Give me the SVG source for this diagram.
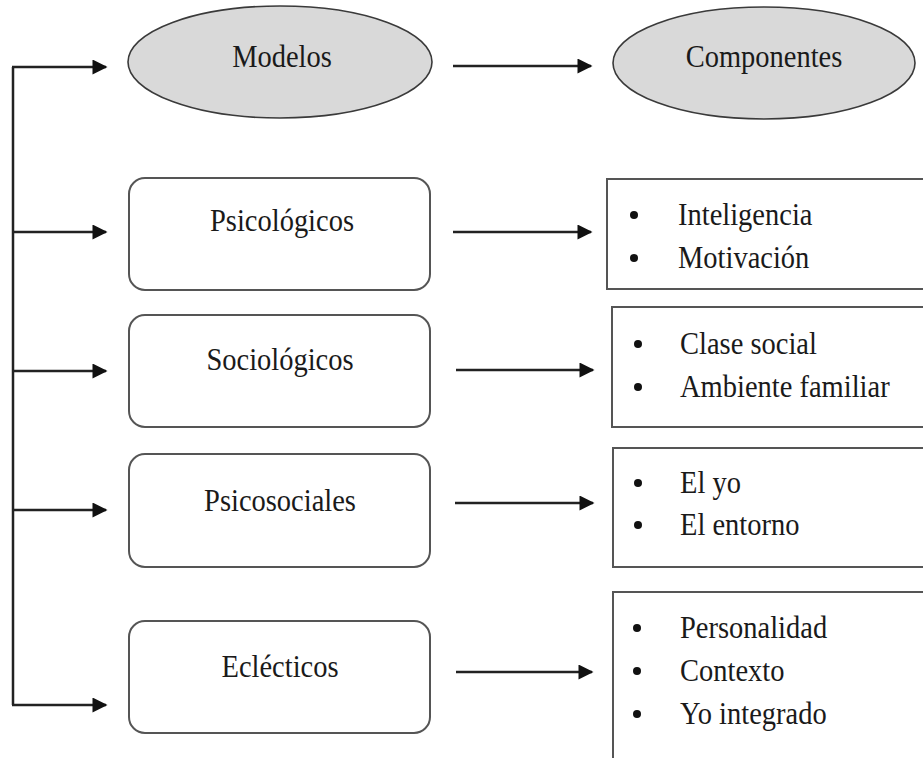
<svg xmlns="http://www.w3.org/2000/svg" width="923" height="758" viewBox="0 0 923 758">
<style>
.t{font-family:"Liberation Serif","Times New Roman",serif;font-size:28.5px;fill:#1a1a1a;}
.m{text-anchor:middle;}
.ell{fill:#d9d9d9;stroke:#3a3a3a;stroke-width:1.6;}
.rbox{fill:#fff;stroke:#555;stroke-width:2;}
.sbox{fill:#fff;stroke:#555;stroke-width:2;}
.c{fill:none;stroke:#222;stroke-width:2.5;}
.b{fill:#111;}
</style>
<defs>
<marker id="ah" viewBox="0 0 10 10" refX="9" refY="5" markerWidth="6.2" markerHeight="6" markerUnits="strokeWidth" orient="auto">
<path d="M0,0 L10,5 L0,10 z" fill="#111"/>
</marker>
</defs>
<rect width="923" height="758" fill="#fff"/>

<g id="connectors">
<path class="c" d="M13,67 V705"/>
<path class="c" d="M12,67 H106" marker-end="url(#ah)"/>
<path class="c" d="M12,232 H106" marker-end="url(#ah)"/>
<path class="c" d="M12,371 H106" marker-end="url(#ah)"/>
<path class="c" d="M12,510 H106" marker-end="url(#ah)"/>
<path class="c" d="M12,705 H106" marker-end="url(#ah)"/>
<path class="c" d="M453,66 H591" marker-end="url(#ah)"/>
<path class="c" d="M453,232 H591" marker-end="url(#ah)"/>
<path class="c" d="M456,370 H593" marker-end="url(#ah)"/>
<path class="c" d="M455,503 H593" marker-end="url(#ah)"/>
<path class="c" d="M456,672 H592" marker-end="url(#ah)"/>
</g>

<g id="modelos">
<ellipse class="ell" cx="280" cy="62" rx="152" ry="56"/>
<text class="t m" transform="translate(282,67) scale(1,1.14)">Modelos</text>
</g>
<g id="componentes">
<ellipse class="ell" cx="764" cy="63" rx="151" ry="56"/>
<text class="t m" transform="translate(764,67) scale(1,1.14)">Componentes</text>
</g>

<g id="psicologicos">
<rect class="rbox" x="129" y="178" width="301" height="112" rx="16"/>
<text class="t m" transform="translate(282,231) scale(1,1.14)">Psicológicos</text>
</g>
<g id="sociologicos">
<rect class="rbox" x="129" y="315" width="301" height="112" rx="16"/>
<text class="t m" transform="translate(280,370) scale(1,1.14)">Sociológicos</text>
</g>
<g id="psicosociales">
<rect class="rbox" x="129" y="454" width="301" height="113" rx="16"/>
<text class="t m" transform="translate(280,511) scale(1,1.14)">Psicosociales</text>
</g>
<g id="eclecticos">
<rect class="rbox" x="129" y="621" width="301" height="112" rx="16"/>
<text class="t m" transform="translate(280,677) scale(1,1.14)">Eclécticos</text>
</g>

<g id="comp-psicologicos">
<rect class="sbox" x="607" y="179" width="330" height="110"/>
<circle class="b" cx="634" cy="215" r="4"/>
<circle class="b" cx="634" cy="258" r="4"/>
<text class="t" transform="translate(678,225) scale(1,1.14)">Inteligencia</text>
<text class="t" transform="translate(678,268) scale(1,1.14)">Motivación</text>
</g>
<g id="comp-sociologicos">
<rect class="sbox" x="612" y="307" width="330" height="120"/>
<circle class="b" cx="638" cy="344" r="4"/>
<circle class="b" cx="638" cy="387" r="4"/>
<text class="t" transform="translate(680,354) scale(1,1.14)">Clase social</text>
<text class="t" transform="translate(680,397) scale(1,1.14)">Ambiente familiar</text>
</g>
<g id="comp-psicosociales">
<rect class="sbox" x="613" y="448" width="330" height="119"/>
<circle class="b" cx="638" cy="483" r="4"/>
<circle class="b" cx="638" cy="525" r="4"/>
<text class="t" transform="translate(680,493) scale(1,1.14)">El yo</text>
<text class="t" transform="translate(680,535) scale(1,1.14)">El entorno</text>
</g>
<g id="comp-eclecticos">
<rect class="sbox" x="613" y="592" width="330" height="200"/>
<circle class="b" cx="637" cy="628" r="4"/>
<circle class="b" cx="637" cy="671" r="4"/>
<circle class="b" cx="637" cy="714" r="4"/>
<text class="t" transform="translate(680,638) scale(1,1.14)">Personalidad</text>
<text class="t" transform="translate(680,681) scale(1,1.14)">Contexto</text>
<text class="t" transform="translate(680,724) scale(1,1.14)">Yo integrado</text>
</g>
</svg>
